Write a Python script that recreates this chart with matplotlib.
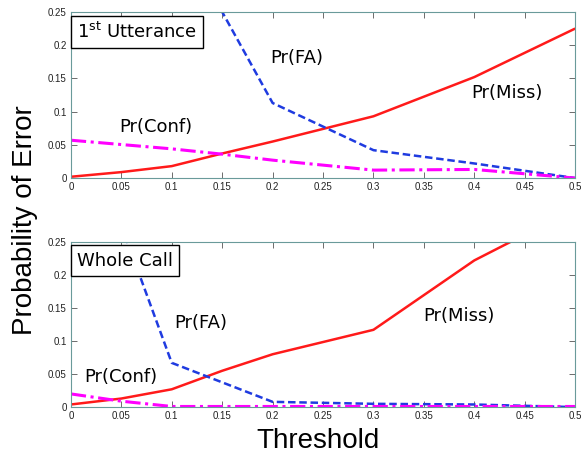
import numpy as np
import matplotlib
matplotlib.use("Agg")
import matplotlib.pyplot as plt

# thresholds and error rates, first utterance
thr_miss_top = [0, 0.05, 0.1, 0.15, 0.2, 0.25, 0.3, 0.4, 0.5]
miss_top = [0.002, 0.009, 0.018, 0.037, 0.055, 0.074, 0.093, 0.152, 0.225]
thr_fa_top = [0.1, 0.15, 0.2, 0.3, 0.4, 0.5]
fa_top = [0.45, 0.25, 0.113, 0.042, 0.022, 0.0]
thr_conf_top = [0, 0.1, 0.15, 0.2, 0.3, 0.4, 0.5]
conf_top = [0.057, 0.044, 0.036, 0.027, 0.012, 0.013, 0.0]

# whole call
thr_miss_bot = [0, 0.05, 0.1, 0.15, 0.2, 0.3, 0.4, 0.5]
miss_bot = [0.004, 0.013, 0.027, 0.055, 0.080, 0.117, 0.222, 0.30]
thr_fa_bot = [0.05, 0.1, 0.2, 0.3, 0.4, 0.5]
fa_bot = [0.275, 0.067, 0.008, 0.005, 0.004, 0.0]
thr_conf_bot = [0, 0.05, 0.1, 0.2, 0.3, 0.4, 0.5]
conf_bot = [0.02, 0.009, 0.001, 0.001, 0.001, 0.001, 0.001]

xticks = np.arange(0, 0.51, 0.05)
yticks = [0, 0.05, 0.1, 0.15, 0.2, 0.25]

fig = plt.figure(figsize=(5.81, 4.59), dpi=100)
ax1 = fig.add_axes([0.122, 0.612, 0.868, 0.362])
ax2 = fig.add_axes([0.122, 0.113, 0.868, 0.360])

panels = [
    (ax1, thr_miss_top, miss_top, thr_fa_top, fa_top, thr_conf_top, conf_top,
     "1$^{\\mathrm{st}}$ Utterance",
     {"Pr(FA)": (0.224, 0.181), "Pr(Miss)": (0.4325, 0.128), "Pr(Conf)": (0.084, 0.077)}),
    (ax2, thr_miss_bot, miss_bot, thr_fa_bot, fa_bot, thr_conf_bot, conf_bot,
     "Whole Call",
     {"Pr(FA)": (0.129, 0.127), "Pr(Miss)": (0.385, 0.138), "Pr(Conf)": (0.0496, 0.045)}),
]

for ax, tm, m, tf, f, tc, c, title, labels in panels:
    ax.plot(tm, m, color="#ff1a1a", lw=1.8, solid_capstyle="butt")
    ax.plot(tf, f, color="#1f3be0", lw=1.8, ls=(0, (3, 1.5)))
    ax.plot(tc, c, color="#ff00ff", lw=2.2, ls=(0, (5, 1.5, 1, 1.5)))
    ax.set_xlim(0, 0.5)
    ax.set_ylim(0, 0.25)
    ax.set_xticks(xticks)
    ax.set_xticklabels(["0" if v == 0 else ("%g" % round(v, 2)) for v in xticks],
                       family="Liberation Sans")
    ax.set_yticks(yticks)
    ax.set_yticklabels(["0" if v == 0 else "%g" % v for v in yticks],
                       family="Liberation Sans")
    ax.tick_params(direction="in", top=True, right=True, labelsize=7,
                   length=4, width=0.6, color="#555555", labelcolor="#222222", pad=3)
    for s in ax.spines.values():
        s.set_color("#6a9a9a")
        s.set_linewidth(0.8)
    ax.text(0.012, 0.94, title, transform=ax.transAxes, fontsize=13,
            va="top", ha="left",
            bbox=dict(boxstyle="square,pad=0.35", fc="white", ec="black", lw=1))
    for txt, (x, y) in labels.items():
        ax.text(x, y, txt, fontsize=13, ha="center", va="center")

fig.text(0.043, 0.52, "Probability of Error", rotation=90, fontsize=20,
         ha="center", va="center", family="Liberation Sans")
fig.text(0.548, 0.04, "Threshold", fontsize=20, ha="center", va="center",
         family="Liberation Sans")

fig.savefig("out.png", dpi=100)
